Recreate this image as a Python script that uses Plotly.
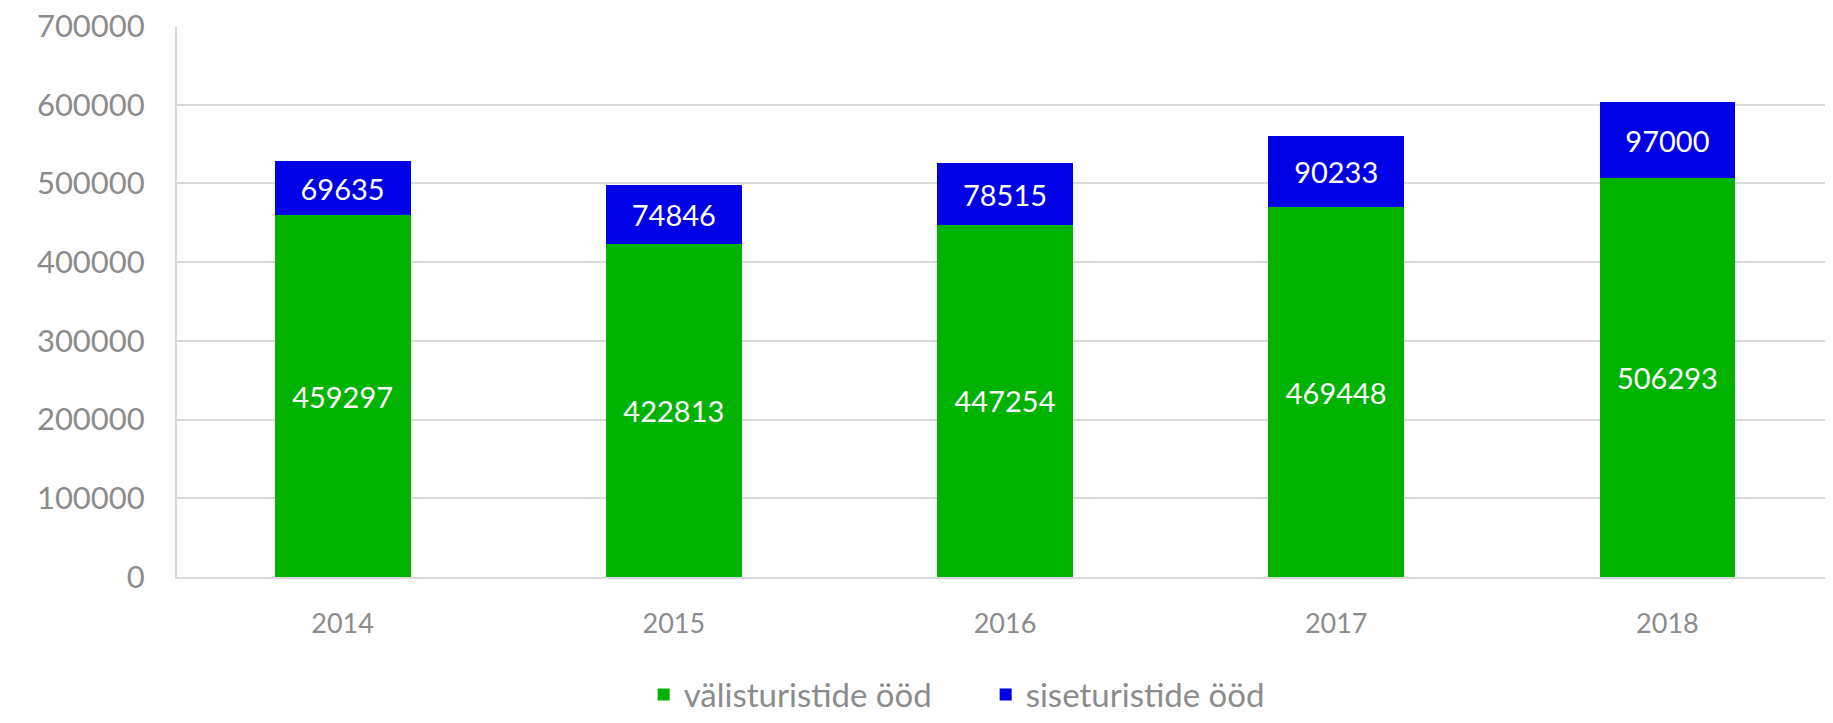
import plotly.graph_objects as go

years = ["2014", "2015", "2016", "2017", "2018"]
foreign_nights = [459297, 422813, 447254, 469448, 506293]
domestic_nights = [69635, 74846, 78515, 90233, 97000]
series_names = ["välisturistide ööd", "siseturistide ööd"]
y_ticks = [0, 100000, 200000, 300000, 400000, 500000, 600000, 700000]

label_font = dict(family="Lato", size=29, color="white")

fig = go.Figure()
fig.add_trace(go.Bar(
    x=years, y=foreign_nights, name=series_names[0],
    marker=dict(color="#00B300", line=dict(width=0)),
    text=foreign_nights, textposition="inside", insidetextanchor="middle",
    textfont=label_font, texttemplate="%{y}",
))
fig.add_trace(go.Bar(
    x=years, y=domestic_nights, name=series_names[1],
    marker=dict(color="#0000E6", line=dict(width=0)),
    text=domestic_nights, textposition="inside", insidetextanchor="middle",
    textfont=label_font, texttemplate="%{y}",
))

# page has an 8px body margin, so margins are shifted by 8px
fig.update_layout(
    barmode="stack",
    bargap=0.59,
    width=1825, height=715,
    margin=dict(l=169, r=0, t=18, b=146),
    plot_bgcolor="white", paper_bgcolor="white",
    uniformtext=dict(minsize=20, mode="show"),
    font=dict(family="Lato", color="#8C8C8C"),
    xaxis=dict(
        showline=True, linecolor="#D9D9D9", linewidth=2,
        tickfont=dict(size=27, color="#8C8C8C"),
        ticks="", ticklabelstandoff=22, automargin=False,
    ),
    yaxis=dict(
        range=[0, 700000], tickvals=y_ticks,
        tickformat="d",
        showgrid=True, gridcolor="#D9D9D9", gridwidth=1.5,
        showline=True, linecolor="#D9D9D9", linewidth=2,
        zeroline=False,
        tickfont=dict(size=31, color="#8C8C8C"),
        ticks="", ticklabelstandoff=24, automargin=False,
        ticklabeloverflow="allow",
    ),
    legend=dict(
        orientation="h", x=0.2818, xanchor="left", y=-0.264, yanchor="bottom",
        font=dict(size=33, color="#8C8C8C", family="Lato"),
        itemwidth=30, traceorder="normal", entrywidth=297,
    ),
)

fig.write_html("out.html")
